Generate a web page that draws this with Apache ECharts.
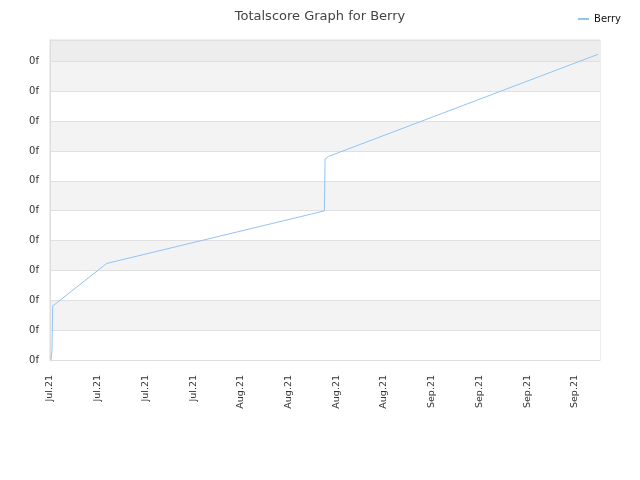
<!DOCTYPE html>
<html>
<head>
<meta charset="utf-8">
<script src="https://cdn.jsdelivr.net/npm/echarts@6/dist/echarts.min.js"></script>
<style>html,body{margin:0;padding:0;background:#fff;}#c{width:640px;height:480px;}</style>
</head>
<body>
<div id="c"></div>
<script>
// Days since 2021-07-08 and total score (in grid units)
var days   = [0.15, 0.29, 0.40, 0.40, 0.48, 8.32, 40.26, 40.36, 40.86, 80.42];
var scores = [0.00, 0.335, 0.369, 1.81, 1.877, 3.235, 4.995, 6.738, 6.819, 10.241];
var seriesName = 'Berry';
var yTickLabel = '0f';
var monthNames = ['Jan','Feb','Mar','Apr','May','Jun','Jul','Aug','Sep','Oct','Nov','Dec'];
var baseDate = Date.UTC(2021, 6, 8);

var data = days.map(function (d, i) { return [d, scores[i]]; });
var font = 'DejaVu Sans';
var bands = ['#ffffff','#f3f3f3','#ffffff','#f3f3f3','#ffffff','#f3f3f3','#ffffff','#f3f3f3','#ffffff','#f3f3f3','#ededed'];

var chart = echarts.init(document.getElementById('c'), null, {renderer: 'canvas'});
chart.setOption({
  animation: false,
  title: {
    text: 'Totalscore Graph for Berry',
    left: 'center', top: 5,
    textStyle: {fontFamily: font, fontSize: 13, fontWeight: 'normal', color: '#444'}
  },
  legend: {
    data: [seriesName],
    right: 14, top: 9,
    icon: 'rect', itemWidth: 11, itemHeight: 2, itemGap: 8,
    textStyle: {fontFamily: font, fontSize: 10, color: '#111'}
  },
  grid: {left: 50, right: 40, top: 40, bottom: 120, show: true, borderColor: '#dddddd', borderWidth: 1, backgroundColor: 'transparent'},
  xAxis: {
    type: 'value', min: 0, max: 80.7, interval: 7,
    axisLine: {show: true, lineStyle: {color: '#dddddd'}},
    axisTick: {show: false},
    splitLine: {show: false},
    axisLabel: {
      rotate: 90, margin: 15, showMaxLabel: false,
      fontFamily: font, fontSize: 9.5, color: '#333',
      formatter: function (v) {
        var dt = new Date(baseDate + v * 86400000);
        return monthNames[dt.getUTCMonth()] + '.' + String(dt.getUTCFullYear()).slice(2);
      }
    }
  },
  yAxis: {
    type: 'value', min: 0, max: 10.72, interval: 1,
    axisLine: {show: true, lineStyle: {color: '#dddddd'}},
    axisTick: {show: false},
    splitLine: {show: true, lineStyle: {color: '#e0e0e0', width: 1}},
    splitArea: {show: true, areaStyle: {color: bands}},
    axisLabel: {
      margin: 11, showMaxLabel: false, padding: [2, 0, 0, 0],
      fontFamily: font, fontSize: 10, color: '#333',
      formatter: function () { return yTickLabel; }
    }
  },
  series: [{
    name: seriesName,
    type: 'line',
    data: data,
    showSymbol: false,
    symbol: 'none',
    lineStyle: {color: '#93c3f3', width: 1},
    itemStyle: {color: '#93c3f3'}
  }]
});
</script>
</body>
</html>
